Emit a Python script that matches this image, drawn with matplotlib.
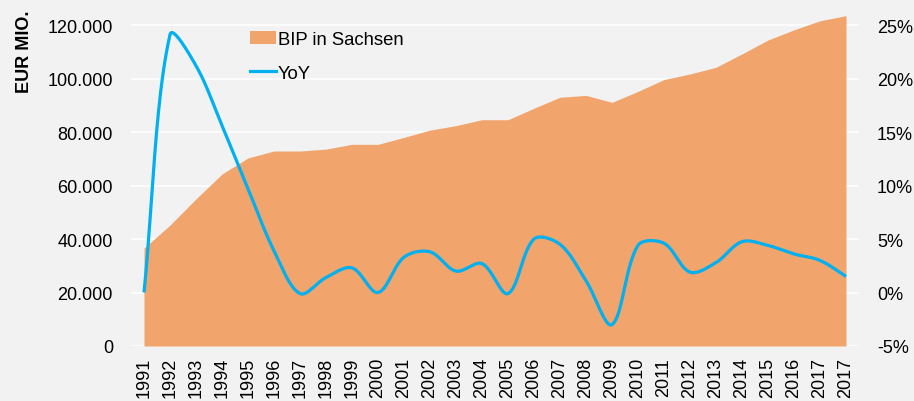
import matplotlib
matplotlib.use("Agg")
import matplotlib.pyplot as plt
import numpy as np
from matplotlib.lines import Line2D
from matplotlib.patches import Patch

plt.rcParams['font.family'] = ['Liberation Sans', 'DejaVu Sans']

labels = ['1991', '1992', '1993', '1994', '1995', '1996', '1997', '1998', '1999',
          '2000', '2001', '2002', '2003', '2004', '2005', '2006', '2007', '2008',
          '2009', '2010', '2011', '2012', '2013', '2014', '2015', '2016', '2017', '2017']

bip = [36600, 45200, 55000, 64300, 70300, 72900, 72900, 73600, 75400, 75400,
       78000, 80700, 82400, 84600, 84600, 88900, 93000, 93700, 91100, 95200,
       99600, 101700, 104200, 109200, 114400, 118200, 121600, 123500]

yoy = [0.0, 24.1, 21.2, 15.6, 9.7, 3.9, -0.1, 1.4, 2.3, 0.0,
       3.3, 3.8, 2.0, 2.7, -0.1, 5.0, 4.5, 1.1, -3.0, 4.4,
       4.6, 1.9, 2.8, 4.75, 4.4, 3.6, 3.0, 1.5]

left_ticks = [0, 20000, 40000, 60000, 80000, 100000, 120000]
right_ticks = [-5, 0, 5, 10, 15, 20, 25]

BG = '#f2f2f2'
AREA = '#f1a46b'
LINE = '#00b0f0'


def smooth_display(P, n=40, tension=1 / 3.0):
    """Excel-like smoothed line through points given in display (pixel) coords."""
    m = len(P)
    out = []
    d = np.linalg.norm(np.diff(P, axis=0), axis=1)
    for i in range(m - 1):
        p1, p2 = P[i], P[i + 1]
        if i > 0:
            T = P[i + 1] - P[i - 1]
            c1 = p1 + T * tension * d[i] / (d[i - 1] + d[i])
        else:
            c1 = p1 + (p2 - p1) / 3.0
        if i + 2 < m:
            T = P[i + 2] - P[i]
            c2 = p2 - T * tension * d[i] / (d[i] + d[i + 1])
        else:
            c2 = p2 - (p2 - p1) / 3.0
        t = np.linspace(0, 1, n)[:, None]
        seg = ((1 - t) ** 3) * p1 + 3 * ((1 - t) ** 2) * t * c1 + 3 * (1 - t) * t ** 2 * c2 + t ** 3 * p2
        if i > 0:
            seg = seg[1:]
        out.append(seg)
    return np.vstack(out)


fig = plt.figure(figsize=(9.14, 4.02), dpi=100, facecolor=BG)
ax = fig.add_axes([131 / 914, 1 - 347 / 402, 728 / 914, 337 / 402])
ax.set_facecolor(BG)

x = np.arange(len(labels))
ax.fill_between(x, 0, bip, color=AREA, linewidth=0, zorder=2)
ax.set_xlim(-0.5, len(labels) - 0.5)
ax.set_ylim(0, 126000)
ax.set_yticks(left_ticks)
ax.set_yticklabels(['{:,.0f}'.format(v).replace(',', '.') for v in left_ticks])
ax.yaxis.grid(True, color='white', linewidth=1.2)
ax.set_axisbelow(True)
ax.set_xticks(x)
ax.set_xticklabels(labels, rotation=90)
for s in ax.spines.values():
    s.set_visible(False)
ax.tick_params(axis='y', length=0, pad=13, labelsize=13, colors='black')
ax.tick_params(axis='x', length=0, pad=8, labelsize=13, colors='black')
ax.set_ylabel('EUR MIO.', fontsize=13, fontweight='bold')
ax.yaxis.set_label_coords(-0.135, 0.875)

ax2 = ax.twinx()
ax2.set_xlim(-0.5, len(labels) - 0.5)
ax2.set_ylim(-5, 26.5)
pts_disp = ax2.transData.transform(np.column_stack([x, yoy]))
curve = ax2.transData.inverted().transform(smooth_display(pts_disp))
ax2.plot(curve[:, 0], curve[:, 1], color=LINE, linewidth=2.3, solid_capstyle='butt', zorder=3)
ax2.set_yticks(right_ticks)
ax2.set_yticklabels(['{}%'.format(v) for v in right_ticks])
ax2.tick_params(axis='y', length=0, pad=13, labelsize=13, colors='black')
for s in ax2.spines.values():
    s.set_visible(False)

handles = [Patch(facecolor=AREA, edgecolor='none'),
           Line2D([0], [0], color=LINE, linewidth=2.3)]
leg = ax2.legend(handles, ['BIP in Sachsen', 'YoY'], loc='upper left',
                 bbox_to_anchor=(250 / 914, 1 - 32 / 402), bbox_transform=fig.transFigure,
                 frameon=False, fontsize=13.3, handlelength=1.4, handletextpad=0.12,
                 labelspacing=0.9, borderpad=0, borderaxespad=0)

fig.savefig('out.png', dpi=100, facecolor=BG)
